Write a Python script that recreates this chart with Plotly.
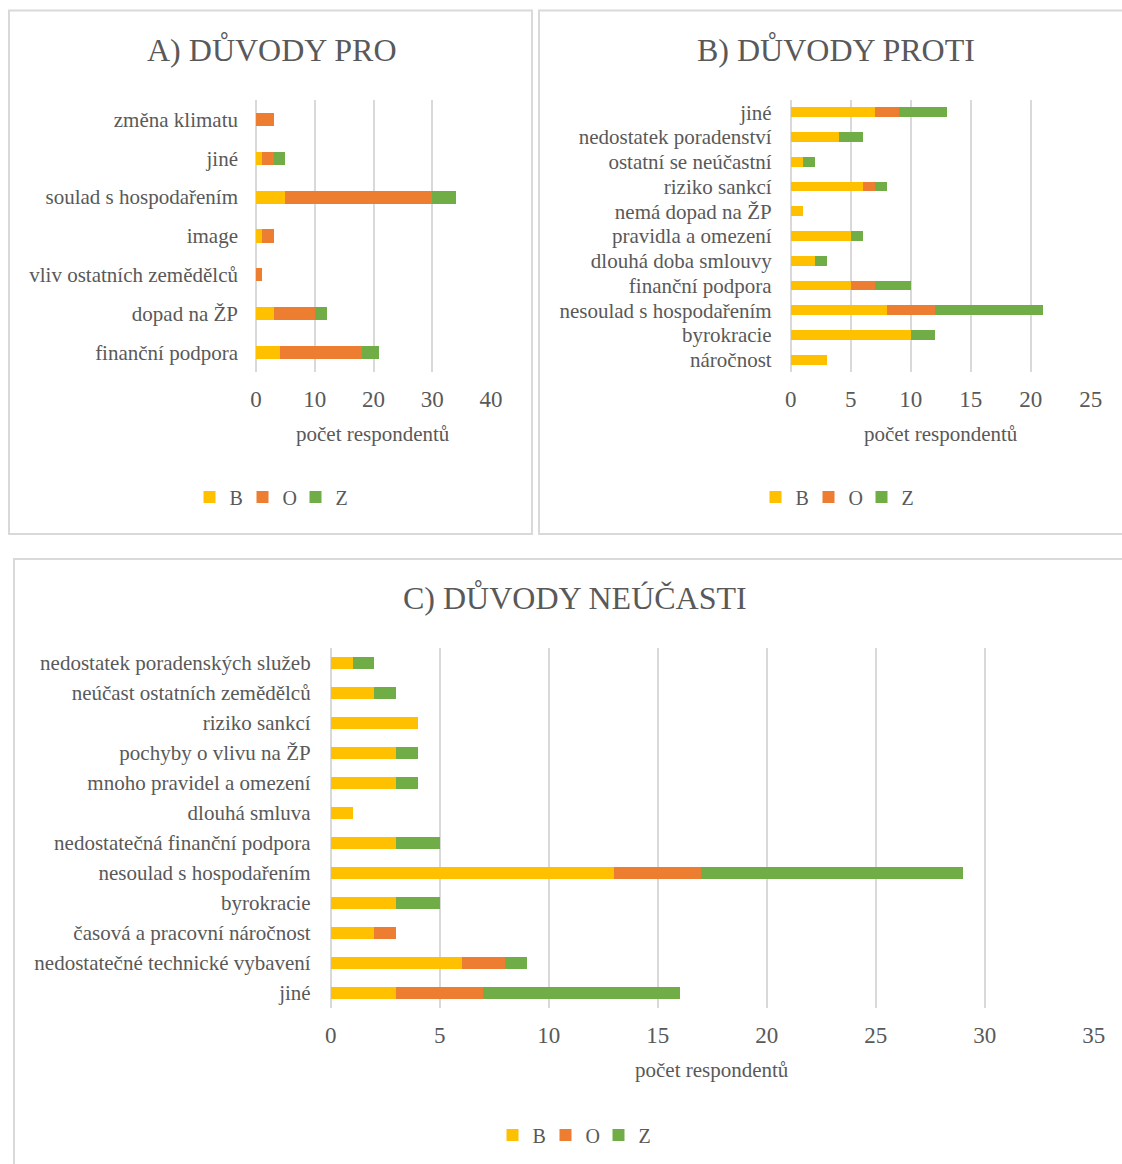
import plotly.graph_objects as go

# A) reasons for
cats_a = ["změna klimatu", "jiné", "soulad s hospodařením", "image",
          "vliv ostatních zemědělců", "dopad na ŽP", "finanční podpora"]
a_b = [0, 1, 5, 1, 0, 3, 4]
a_o = [3, 2, 25, 2, 1, 7, 14]
a_z = [0, 2, 4, 0, 0, 2, 3]

# B) reasons against
cats_b = ["jiné", "nedostatek poradenství", "ostatní se neúčastní", "riziko sankcí",
          "nemá dopad na ŽP", "pravidla a omezení", "dlouhá doba smlouvy",
          "finanční podpora", "nesoulad s hospodařením", "byrokracie", "náročnost"]
b_b = [7, 4, 1, 6, 1, 5, 2, 5, 8, 10, 3]
b_o = [2, 0, 0, 1, 0, 0, 0, 2, 4, 0, 0]
b_z = [4, 2, 1, 1, 0, 1, 1, 3, 9, 2, 0]

# C) reasons for non-participation
cats_c = ["nedostatek poradenských služeb", "neúčast ostatních zemědělců", "riziko sankcí",
          "pochyby o vlivu na ŽP", "mnoho pravidel a omezení", "dlouhá smluva",
          "nedostatečná finanční podpora", "nesoulad s hospodařením", "byrokracie",
          "časová a pracovní náročnost", "nedostatečné technické vybavení", "jiné"]
c_b = [1, 2, 4, 3, 3, 1, 3, 13, 3, 2, 6, 3]
c_o = [0, 0, 0, 0, 0, 0, 0, 4, 0, 1, 2, 4]
c_z = [1, 1, 0, 1, 1, 0, 2, 12, 2, 0, 1, 9]

series = ["B", "O", "Z"]
colors = ["#FFC000", "#ED7D31", "#70AD47"]

W, H = 1122, 1164
FONT = "Liberation Serif, Times New Roman, serif"
GRAY = "#595959"
GRID = "#D9D9D9"


def px_x(p):
    return p / W


def px_y(p):
    return 1 - p / H


fig = go.Figure()

panels = [
    ("x", "y", "legend", cats_a, [a_b, a_o, a_z], 0.34),
    ("x2", "y2", "legend2", cats_b, [b_b, b_o, b_z], 0.40),
    ("x3", "y3", "legend3", cats_c, [c_b, c_o, c_z], 0.40),
]

for xa, ya, lg, cats, vals, w in panels:
    for name, col, v in zip(series, colors, vals):
        fig.add_trace(go.Bar(
            y=cats, x=v, name=name, orientation="h", width=w,
            marker=dict(color=col, line=dict(width=0)),
            xaxis=xa, yaxis=ya, legend=lg,
        ))


def xaxis(dom, rng, dt):
    return dict(domain=dom, range=rng, dtick=dt, showgrid=True, gridcolor=GRID,
                gridwidth=1.5, zeroline=True, zerolinecolor=GRID, zerolinewidth=1.5,
                showline=False, ticks="", ticklabelstandoff=11, automargin=False,
                tickfont=dict(family=FONT, size=23, color=GRAY))


def yaxis(dom, anchor, standoff):
    return dict(domain=dom, anchor=anchor, autorange="reversed", showgrid=False,
                showline=False, ticks="", dtick=1, ticklabelstandoff=standoff,
                automargin=False, tickfont=dict(family=FONT, size=21, color=GRAY))


top_dom = [px_y(372), px_y(100)]
bot_dom = [px_y(1008), px_y(648)]

fig.update_layout(
    width=W, height=H,
    margin=dict(l=0, r=0, t=0, b=0),
    plot_bgcolor="white", paper_bgcolor="white",
    barmode="stack",
    font=dict(family=FONT, color=GRAY),
    xaxis=dict(xaxis([px_x(256), px_x(491)], [0, 40], 10), anchor="y"),
    yaxis=yaxis(top_dom, "x", 17),
    xaxis2=dict(xaxis([px_x(790.7), px_x(1090.7)], [0, 25], 5), anchor="y2"),
    yaxis2=yaxis(top_dom, "x2", 18),
    xaxis3=dict(xaxis([px_x(330.7), px_x(1093.7)], [0, 35], 5), anchor="y3"),
    yaxis3=yaxis(bot_dom, "x3", 19),
)

leg_common = dict(orientation="h", xanchor="center", yanchor="middle",
                  traceorder="normal", font=dict(family=FONT, size=20, color=GRAY),
                  itemwidth=30, entrywidth=8, entrywidthmode="pixels",
                  bgcolor="rgba(0,0,0,0)")
fig.update_layout(
    legend=dict(leg_common, x=px_x(269), y=px_y(497)),
    legend2=dict(leg_common, x=px_x(835), y=px_y(497)),
    legend3=dict(leg_common, x=px_x(572), y=px_y(1135)),
)

# panel frames
frames = [(9, 10.5, 532, 534), (539, 10.5, 1130, 534), (14, 559, 1130, 1170)]
for x0, y0, x1, y1 in frames:
    fig.add_shape(type="rect", xref="paper", yref="paper",
                  x0=px_x(x0), x1=px_x(x1), y0=px_y(y1), y1=px_y(y0),
                  line=dict(color=GRID, width=2), fillcolor="rgba(0,0,0,0)")

# titles and axis titles
texts = [
    ("A) DŮVODY PRO", 271, 50, 32),
    ("B) DŮVODY PROTI", 836, 50, 32),
    ("C) DŮVODY NEÚČASTI", 575, 597, 32),
    ("počet respondentů", 373, 434, 21),
    ("počet respondentů", 941, 434, 21),
    ("počet respondentů", 712, 1070, 21),
]
for t, x, y, s in texts:
    fig.add_annotation(text=t, x=px_x(x), y=px_y(y), xref="paper", yref="paper",
                       xanchor="center", yanchor="middle", showarrow=False,
                       font=dict(family=FONT, size=s, color=GRAY))

# drop the default page margin so the figure sits at the window origin
fig.write_html("out.html", config={"displayModeBar": False},
               post_script="document.body.style.margin='0';document.body.style.overflow='hidden';")
